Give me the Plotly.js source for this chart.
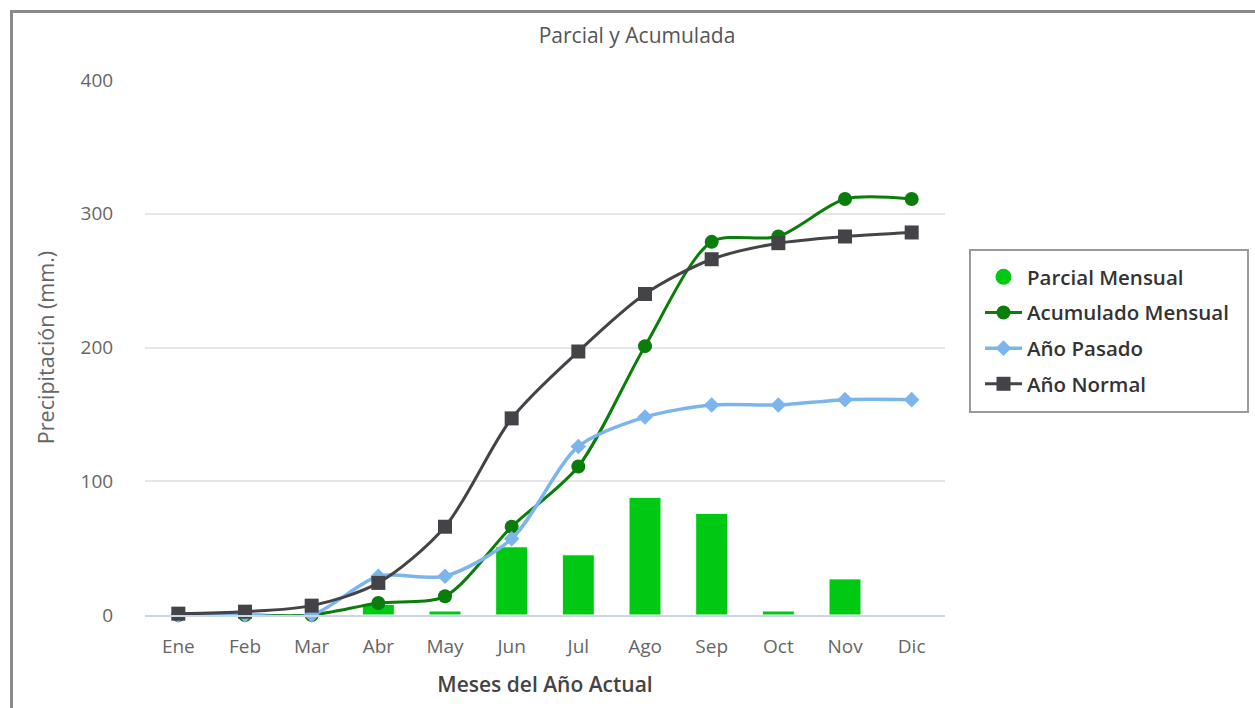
<!DOCTYPE html>
<html>
<head>
<meta charset="utf-8">
<script src="https://cdn.plot.ly/plotly-3.0.1.min.js"></script>
<style>
  html, body { margin: 0; padding: 0; background: #fff; overflow: hidden; }
  #frame { position: absolute; left: 10px; top: 10px; width: 2000px; height: 2000px;
           border-left: 3px solid #8a8a8a; border-top: 3px solid #8a8a8a; pointer-events: none; z-index: 2; }
  #chart { position: absolute; left: 0; top: 0; width: 1255px; height: 708px; }
</style>
</head>
<body>
<div id="frame"></div>
<div id="chart"></div>
<script>
const months = ['Ene','Feb','Mar','Abr','May','Jun','Jul','Ago','Sep','Oct','Nov','Dic'];
const parcialMensual = [0, 0, 0, 8, 3, 51, 45, 88, 76, 3, 27, 0];
const acumuladoMensual = [0, 0, 0, 9, 14, 66, 111, 201, 279, 283, 311, 311];
const anoPasado = [0, 0, 0, 29, 29, 57, 126, 148, 157, 157, 161, 161];
const anoNormal = [1, 2.5, 7, 24, 66, 147, 197, 240, 266, 278, 283, 286];

const FONT = '"Open Sans", "Noto Sans", sans-serif';

const traces = [
  {
    type: 'bar', x: months, y: parcialMensual, name: 'Parcial Mensual',
    legendgroup: 'g1', showlegend: false, width: 0.48,
    marker: { color: '#00c914', line: { color: '#ffffff', width: 1 } },
    hovertemplate: '%{x}: %{y}<extra>Parcial Mensual</extra>'
  },
  {
    type: 'scatter', mode: 'markers', x: [null], y: [null], name: 'Parcial Mensual',
    legendgroup: 'g1', showlegend: true, hoverinfo: 'skip',
    marker: { symbol: 'circle', size: 23, color: '#00c914' }
  },
  {
    type: 'scatter', mode: 'lines+markers', x: months, y: acumuladoMensual, name: 'Acumulado Mensual',
    legendgroup: 'g2', cliponaxis: false,
    line: { shape: 'spline', smoothing: 0.8, color: '#0a7d0a', width: 3 },
    marker: { symbol: 'circle', size: 14, color: '#0a7d0a' }
  },
  {
    type: 'scatter', mode: 'lines+markers', x: months, y: anoPasado, name: 'Año Pasado',
    legendgroup: 'g3', cliponaxis: false,
    line: { shape: 'spline', smoothing: 0.8, color: '#7cb5ec', width: 3.5 },
    marker: { symbol: 'diamond', size: 12, color: '#7cb5ec' }
  },
  {
    type: 'scatter', mode: 'lines+markers', x: months, y: anoNormal, name: 'Año Normal',
    legendgroup: 'g4', cliponaxis: false,
    line: { shape: 'spline', smoothing: 0.85, color: '#434348', width: 3 },
    marker: { symbol: 'square', size: 14, color: '#434348' }
  }
];

const layout = {
  width: 1255, height: 708,
  margin: { l: 145, r: 310, t: 80, b: 93 },
  paper_bgcolor: 'rgba(0,0,0,0)', plot_bgcolor: 'rgba(0,0,0,0)',
  font: { family: FONT, color: '#666666' },
  title: {
    text: 'Parcial y Acumulada', xref: 'container', x: 0.5076, xanchor: 'center',
    yref: 'container', y: 0.95, yanchor: 'middle',
    font: { family: FONT, size: 21, color: '#555555' }
  },
  showlegend: true,
  legend: {
    x: (980 - 145) / 800, xanchor: 'left', y: (615 - 257) / 535, yanchor: 'top',
    borderwidth: 0, bgcolor: 'rgba(0,0,0,0)',
    font: { family: FONT, size: 20.5, color: '#333333', weight: 600 },
    traceorder: 'grouped', tracegroupgap: 6, itemwidth: 37
  },
  shapes: [
    { type: 'rect', xref: 'paper', yref: 'paper',
      x0: (970 - 145) / 800, x1: (1248 - 145) / 800,
      y0: (615 - 412) / 535, y1: (615 - 250) / 535,
      line: { color: '#9a9a9a', width: 2 }, fillcolor: 'rgba(0,0,0,0)', layer: 'below' }
  ],
  bargap: 0.52,
  xaxis: {
    type: 'category', categoryorder: 'array', categoryarray: months,
    range: [-0.5, 11.5],
    showgrid: false, showline: true, linecolor: '#ccd6eb', linewidth: 2,
    ticks: 'outside', ticklen: 13, tickcolor: 'rgba(0,0,0,0)',
    tickfont: { family: FONT, size: 19, color: '#666666' },
    title: { text: 'Meses del Año Actual', standoff: 20,
             font: { family: FONT, size: 21, color: '#444444', weight: 600 } },
    fixedrange: true
  },
  yaxis: {
    range: [0, 400], tickvals: [0, 100, 200, 300, 400],
    showgrid: true, gridcolor: '#e6e6e6', gridwidth: 1.5, zeroline: false, showline: false,
    ticks: 'outside', ticklen: 27, tickcolor: 'rgba(0,0,0,0)',
    tickfont: { family: FONT, size: 19, color: '#666666' },
    title: { text: 'Precipitación (mm.)', standoff: 20,
             font: { family: FONT, size: 21.5, color: '#666666' } },
    fixedrange: true
  }
};

Plotly.newPlot('chart', traces, layout, { displayModeBar: false });
</script>
</body>
</html>
